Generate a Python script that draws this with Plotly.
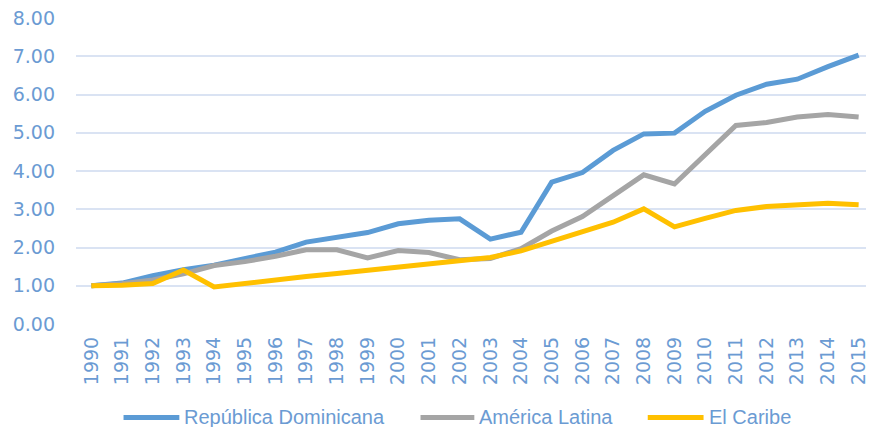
import plotly.graph_objects as go

years = [str(y) for y in range(1990, 2016)]
rep_dom = [1.00, 1.07, 1.26, 1.42, 1.54, 1.70, 1.88, 2.14, 2.26, 2.39, 2.62, 2.71, 2.75, 2.22, 2.40,
           3.71, 3.96, 4.54, 4.97, 4.99, 5.56, 5.98, 6.27, 6.40, 6.73, 7.03]
am_lat = [1.00, 1.05, 1.15, 1.31, 1.53, 1.63, 1.77, 1.94, 1.94, 1.73, 1.92, 1.87, 1.68, 1.71, 1.97,
          2.43, 2.81, 3.35, 3.90, 3.66, 4.44, 5.19, 5.27, 5.41, 5.48, 5.41]
caribe = [1.00, 1.01, 1.06, 1.41, 0.97, 1.07, 1.16, 1.24, 1.32, 1.40, 1.50, 1.55, 1.64, 1.74, 1.91,
          2.16, 2.40, 2.66, 3.01, 2.54, 2.76, 2.97, 3.07, 3.10, 3.16, 3.12]
names = ["República Dominicana", "América Latina", "El Caribe"]
colors = ["#5B9BD5", "#A5A5A5", "#FFC000"]
y_ticks = [0, 1, 2, 3, 4, 5, 6, 7, 8]

TXT = "#6B9BD3"
NUMFONT = "DejaVu Sans, sans-serif"
LEGFONT = "Liberation Sans, Arial, sans-serif"

fig = go.Figure()
for name, vals, col in zip(names, [rep_dom, am_lat, caribe], colors):
    fig.add_trace(go.Scatter(x=years, y=vals, name=name, mode="lines",
                             line=dict(color=col, width=5), showlegend=False))

# custom legend (line sample + label)
W, H = 869, 427
L, T, B = 76.3, 18, 103.3
PW, PH = W - L, H - T - B
leg_items = [(124, 180, 184), (422, 476, 480), (650, 706, 710)]
leg_y = -(417 - (H - B)) / PH
shapes = []
annotations = []
for (x0, x1, xt), name, col in zip(leg_items, names, colors):
    shapes.append(dict(type="line", xref="paper", yref="paper",
                       x0=(x0 - L) / PW, x1=(x1 - L) / PW, y0=leg_y, y1=leg_y,
                       line=dict(color=col, width=5)))
    annotations.append(dict(text=name, xref="paper", yref="paper",
                            x=(xt - L) / PW, y=leg_y, xshift=-1,
                            xanchor="left", yanchor="middle", showarrow=False,
                            font=dict(family=LEGFONT, size=20, color=TXT)))

fig.update_layout(
    width=W, height=H,
    margin=dict(l=L, r=0, t=T, b=B, pad=0),
    paper_bgcolor="white", plot_bgcolor="white",
    font=dict(family=NUMFONT, size=19, color=TXT),
    shapes=shapes, annotations=annotations,
    xaxis=dict(type="category", range=[-0.5, 25.24], showgrid=False, showline=False,
               zeroline=False, tickangle=-90, ticks="", tickfont=dict(family=NUMFONT, size=19, color=TXT),
               ticklabelstandoff=8),
    yaxis=dict(range=[0, 8], tickvals=y_ticks, ticktext=[f"{v:.2f}" for v in y_ticks],
               showgrid=True, gridcolor="#DAE3F3", gridwidth=1.5, zeroline=False,
               showline=False, ticks="", tickfont=dict(family=NUMFONT, size=19, color=TXT),
               ticklabelstandoff=20),
)
fig.write_html("out.html", config={"displayModeBar": False},
               post_script="document.body.style.margin='0px';")
